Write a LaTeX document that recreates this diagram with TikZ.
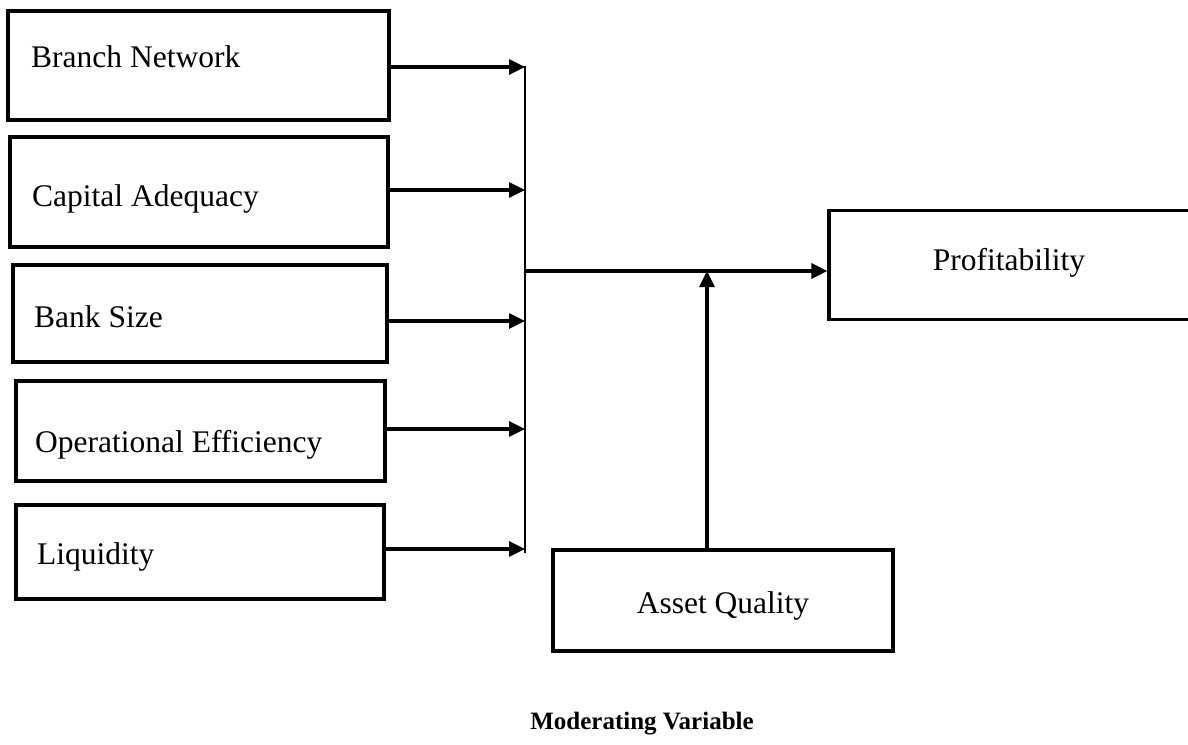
\documentclass[tikz,border=0pt]{standalone}
\usepackage{fontspec}
\setmainfont{Liberation Serif}
\usetikzlibrary{arrows.meta}
\begin{document}
\begin{tikzpicture}[x=1pt,y=-1pt,
  box/.style={draw,line width=3.2pt,rectangle,inner sep=0pt},
  lbl/.style={anchor=base west,inner sep=0pt,font=\fontsize{31.5}{36}\selectfont},
  clbl/.style={anchor=base,inner sep=0pt,font=\fontsize{31.5}{36}\selectfont},
  arr/.style={line width=3.2pt,-{Triangle[length=16pt,width=15pt]}},
  bus/.style={line width=2pt}]
\useasboundingbox (0,0) rectangle (1188,744);
\clip (0,0) rectangle (1188,744);

% independent variables
\node[box,minimum width=381pt,minimum height=109pt] (bn) at (198.5,65.5) {};
\node[box,minimum width=378pt,minimum height=110pt] (ca) at (199,192) {};
\node[box,minimum width=374pt,minimum height=97pt]  (bs) at (200,313.5) {};
\node[box,minimum width=369pt,minimum height=100pt] (oe) at (200.5,431) {};
\node[box,minimum width=368pt,minimum height=94pt]  (lq) at (200,552) {};

\node[lbl] (bnt) at (31,67)  {Branch Network};
\node[lbl] (cat) at (32,206) {Capital Adequacy};
\node[lbl] (bst) at (34,327) {Bank Size};
\node[lbl] (oet) at (35,452) {Operational Efficiency};
\node[lbl] (lqt) at (37,564) {Liquidity};

% dependent and moderating variables
\node[box,minimum width=370pt,minimum height=109pt] (pr) at (1014,265) {};
\node[clbl] (prt) at (1009,270) {Profitability};
\node[box,minimum width=340pt,minimum height=101pt] (aq) at (723,600.5) {};
\node[clbl] (aqt) at (723,613) {Asset Quality};
\node[anchor=base,inner sep=0pt,font=\fontsize{25}{30}\selectfont\bfseries] (mv) at (642,729) {Moderating Variable};

% collector line
\coordinate (c1) at (525,67);
\coordinate (c2) at (525,190);
\coordinate (c3) at (525,321);
\coordinate (c4) at (525,429);
\coordinate (c5) at (525,549);
\coordinate (ctop) at (525,66);
\coordinate (cbot) at (525,553);
\coordinate (cm) at (525,271);
\coordinate (jn) at (707,271);
\draw[bus] (ctop) -- (cbot);

\draw[arr] (bn.east |- c1) -- (c1);
\draw[arr] (ca.east |- c2) -- (c2);
\draw[arr] (bs.east |- c3) -- (c3);
\draw[arr] (oe.east |- c4) -- (c4);
\draw[arr] (lq.east |- c5) -- (c5);

\draw[arr] (cm) -- (pr.west |- cm);
\draw[arr] (aq.north -| jn) -- (jn);
\end{tikzpicture}
\end{document}
